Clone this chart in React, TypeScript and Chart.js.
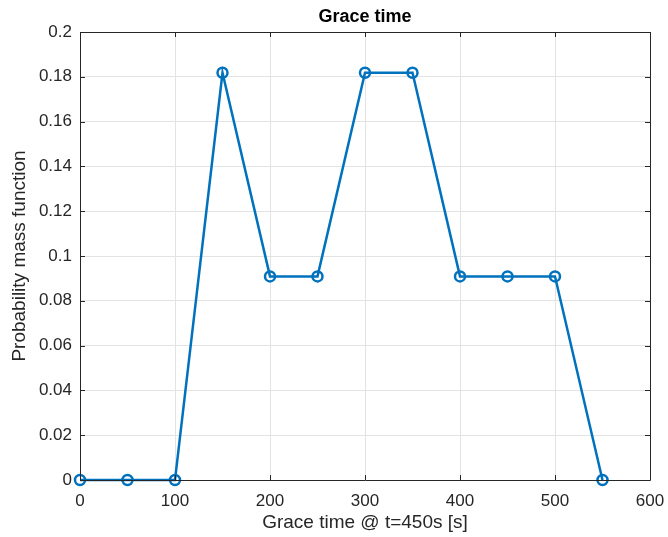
import React, { useEffect, useRef } from "react";
import { Chart, registerables } from "chart.js";

Chart.register(...registerables);

const graceTimes = [0, 50, 100, 150, 200, 250, 300, 350, 400, 450, 500, 550];
const pmfValues = [0, 0, 0, 0.1818, 0.0909, 0.0909, 0.1818, 0.1818, 0.0909, 0.0909, 0.0909, 0];
const xTickValues = [0, 100, 200, 300, 400, 500, 600];
const yTickValues = [0, 0.02, 0.04, 0.06, 0.08, 0.1, 0.12, 0.14, 0.16, 0.18, 0.2];
const chartTitle = "Grace time";
const xTitle = "Grace time @ t=450s [s]";
const yTitle = "Probability mass function";

const FONT = "'Liberation Sans', Arial, Helvetica, sans-serif";
const AXIS_COLOR = "#262626";

const boxPlugin = {
  id: "matlabBox",
  afterDraw(chart: any) {
    const { ctx, chartArea } = chart;
    const { left, right, top, bottom } = chartArea;
    const xs = chart.scales.x;
    const ys = chart.scales.y;
    ctx.save();
    ctx.strokeStyle = AXIS_COLOR;
    ctx.lineWidth = 1;
    ctx.beginPath();
    ctx.rect(Math.round(left) + 0.5, Math.round(top) + 0.5, Math.round(right - left), Math.round(bottom - top));
    ctx.stroke();
    const tl = 5;
    ctx.beginPath();
    xTickValues.forEach((v) => {
      const px = Math.round(xs.getPixelForValue(v)) + 0.5;
      ctx.moveTo(px, bottom);
      ctx.lineTo(px, bottom - tl);
      ctx.moveTo(px, top);
      ctx.lineTo(px, top + tl);
    });
    yTickValues.forEach((v) => {
      const py = Math.round(ys.getPixelForValue(v)) + 0.5;
      ctx.moveTo(left, py);
      ctx.lineTo(left + tl, py);
      ctx.moveTo(right, py);
      ctx.lineTo(right - tl, py);
    });
    ctx.stroke();
    ctx.restore();
  },
};

export default function App() {
  const ref = useRef<HTMLCanvasElement>(null);
  useEffect(() => {
    document.body.style.margin = "0";
    const canvas = ref.current!;
    const chart = new Chart(canvas, {
      type: "line",
      data: {
        datasets: [
          {
            data: graceTimes.map((x, i) => ({ x, y: pmfValues[i] })),
            borderColor: "#0072BD",
            backgroundColor: "rgba(0,0,0,0)",
            borderWidth: 2.5,
            pointRadius: 5,
            pointBorderWidth: 2.5,
            pointBorderColor: "#0072BD",
            pointBackgroundColor: "rgba(0,0,0,0)",
            tension: 0,
            clip: false as any,
          },
        ],
      },
      options: {
        animation: false,
        responsive: false,
        maintainAspectRatio: false,
        layout: { padding: { left: 0, right: 18, top: 0, bottom: 0 } },
        plugins: {
          legend: { display: false },
          tooltip: { enabled: false },
          title: {
            display: true,
            fullSize: false,
            text: chartTitle,
            color: "#000000",
            font: { family: FONT, size: 18, weight: "bold", lineHeight: 1.2 },
            padding: { top: 6, bottom: 4.4 },
          },
        },
        scales: {
          x: {
            type: "linear",
            min: 0,
            max: 600,
            afterBuildTicks: (s: any) => {
              s.ticks = xTickValues.map((v) => ({ value: v }));
            },
            afterFit: (s: any) => {
              s.height = 57;
              s.paddingLeft = 0;
              s.paddingRight = 0;
            },
            ticks: {
              color: AXIS_COLOR,
              font: { family: FONT, size: 17 },
              padding: 11,
              maxRotation: 0,
              autoSkip: false,
              callback: (v: any) => String(v),
            },
            grid: { color: "#e3e3e3", drawTicks: false, lineWidth: 1 },
            border: { display: false },
            title: {
              display: true,
              text: xTitle,
              color: AXIS_COLOR,
              font: { family: FONT, size: 19, lineHeight: 1.2 },
              padding: { top: 0, bottom: 2.6 },
            },
          },
          y: {
            type: "linear",
            min: 0,
            max: 0.2,
            afterBuildTicks: (s: any) => {
              s.ticks = yTickValues.map((v) => ({ value: v }));
            },
            afterFit: (s: any) => {
              s.width = 80;
              s.paddingTop = 0;
              s.paddingBottom = 0;
            },
            ticks: {
              color: AXIS_COLOR,
              font: { family: FONT, size: 17 },
              padding: 8,
              autoSkip: false,
              callback: (v: any) => String(Math.round(v * 100) / 100),
            },
            grid: { color: "#e3e3e3", drawTicks: false, lineWidth: 1 },
            border: { display: false },
            title: {
              display: true,
              text: yTitle,
              color: AXIS_COLOR,
              font: { family: FONT, size: 19, lineHeight: 1.2 },
              padding: { top: 8.6, bottom: 0 },
            },
          },
        },
      },
      plugins: [boxPlugin],
    });
    return () => chart.destroy();
  }, []);
  return (
    <div style={{ width: 668, height: 537, background: "#ffffff" }}>
      <canvas ref={ref} width={668} height={537} style={{ display: "block" }} />
    </div>
  );
}
